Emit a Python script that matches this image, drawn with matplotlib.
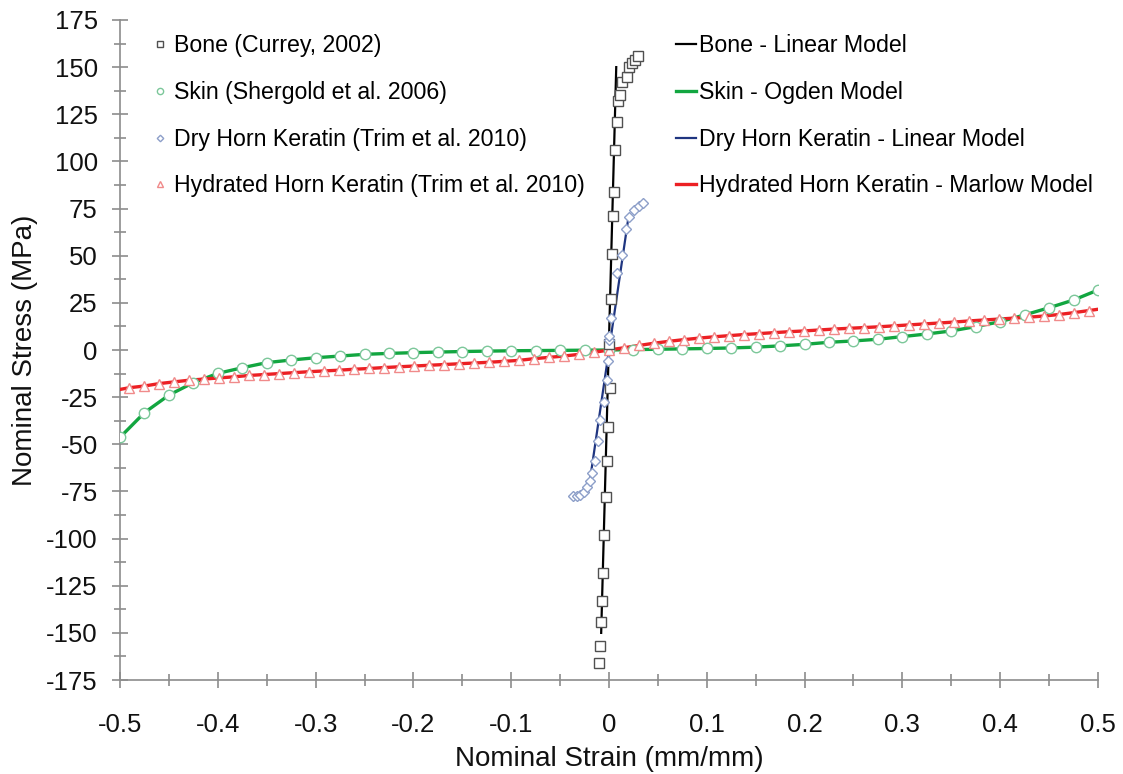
import matplotlib
matplotlib.use("Agg")
import matplotlib.pyplot as plt
from matplotlib.ticker import MultipleLocator, FuncFormatter

plt.rcParams['font.family'] = ['Liberation Sans', 'DejaVu Sans']
plt.rcParams['axes.unicode_minus'] = False

# Bone (Currey, 2002) - test data
bone_strain = [-0.0100, -0.0092, -0.0083, -0.0075, -0.0066, -0.0049, -0.0032, -0.0022,
               -0.0008, 0.0002, 0.0008, 0.0018, 0.0028, 0.0038, 0.0051, 0.0061, 0.0079,
               0.0095, 0.0110, 0.0130, 0.0188, 0.0208, 0.0240, 0.0266, 0.0293]
bone_stress = [-166, -157, -144, -133, -118, -98, -78, -59,
               -41, 3, -20, 27, 51, 71, 84, 106, 121,
               132, 135, 142, 145, 150, 152, 154, 156]
# Bone - linear model
bone_model_strain = [-0.0080, 0.0074]
bone_model_stress = [-150, 150]

# Skin (Shergold et al. 2006) - test data / Ogden model
skin_strain = [-0.500, -0.475, -0.450, -0.425, -0.400, -0.375, -0.350, -0.325, -0.300, -0.275,
               -0.250, -0.225, -0.200, -0.175, -0.150, -0.125, -0.100, -0.075, -0.050, -0.025,
               0.000, 0.025, 0.050, 0.075, 0.100, 0.125, 0.150, 0.175, 0.200, 0.225,
               0.250, 0.275, 0.300, 0.325, 0.350, 0.375, 0.400, 0.425, 0.450, 0.475, 0.500]
skin_stress = [-46.3, -33.2, -23.9, -17.3, -12.4, -9.4, -6.7, -5.3, -4.1, -3.2,
               -2.3, -1.8, -1.4, -1.1, -0.8, -0.6, -0.4, -0.3, -0.2, -0.1,
               0.0, 0.2, 0.4, 0.6, 0.8, 1.1, 1.5, 2.2, 3.0, 4.1,
               4.8, 5.7, 7.1, 8.5, 10.1, 12.4, 15.0, 18.6, 22.4, 26.5, 31.8]

# Dry horn keratin (Trim et al. 2010) - test data
dhk_strain = [-0.0368, -0.0327, -0.0297, -0.0256, -0.0225, -0.0194, -0.0174, -0.0143,
              -0.0112, -0.0092, -0.0050, -0.0020, -0.0010, 0.0000, 0.0002, 0.0020,
              0.0082, 0.0133, 0.0174, 0.0208, 0.0259, 0.0307, 0.0350]
dhk_stress = [-77.4, -77.4, -76.9, -75.3, -72.7, -69.5, -65.2, -58.9,
              -48.3, -37.1, -27.6, -15.9, -5.8, 5.3, 7.4, 17.0,
              40.8, 50.4, 64.0, 70.3, 74.2, 76.5, 77.8]
# Dry horn keratin - linear model
dhk_model_strain = [-0.0192, 0.0195]
dhk_model_stress = [-68, 69]

# Hydrated horn keratin (Trim et al. 2010) - test data
hhk_strain = [-0.4905, -0.4752, -0.4598, -0.4445, -0.4292, -0.4139, -0.3985, -0.3832,
              -0.3679, -0.3525, -0.3372, -0.3219, -0.3066, -0.2912, -0.2759, -0.2606,
              -0.2452, -0.2299, -0.2146, -0.1993, -0.1839, -0.1686, -0.1533, -0.1380,
              -0.1226, -0.1073, -0.0920, -0.0766, -0.0613, -0.0460, -0.0307, -0.0153,
              0.0000,
              0.0153, 0.0307, 0.0460, 0.0613, 0.0766, 0.0920, 0.1073, 0.1226,
              0.1380, 0.1533, 0.1686, 0.1839, 0.1993, 0.2146, 0.2299, 0.2452,
              0.2606, 0.2759, 0.2912, 0.3066, 0.3219, 0.3372, 0.3525, 0.3679,
              0.3832, 0.3985, 0.4139, 0.4292, 0.4445, 0.4598, 0.4752, 0.4905]
hhk_stress = [-20.0, -19.1, -17.8, -16.9, -16.0, -15.4, -14.8, -14.2,
              -13.5, -13.0, -12.5, -12.0, -11.5, -11.1, -10.7, -10.2,
              -9.8, -9.3, -8.9, -8.5, -8.1, -7.7, -7.3, -6.9,
              -6.5, -6.0, -5.5, -4.6, -3.9, -3.2, -2.3, -1.2,
              0.0,
              1.2, 2.4, 3.6, 4.6, 5.5, 6.3, 7.0, 7.6,
              8.2, 8.7, 9.2, 9.7, 10.1, 10.6, 11.1, 11.5,
              11.9, 12.3, 12.8, 13.3, 13.8, 14.3, 14.8, 15.4,
              15.9, 16.4, 16.9, 17.4, 18.0, 18.8, 19.8, 20.9]
# Hydrated horn keratin - Marlow model (runs to the axis ends)
hhk_model_strain = [-0.5] + hhk_strain + [0.5]
hhk_model_stress = [-20.9] + hhk_stress + [21.6]

fig = plt.figure(figsize=(11.23, 7.74), dpi=100)
ax = fig.add_axes([0.1069, 0.1214, 0.8708, 0.8528])

# model lines
l_bone, = ax.plot(bone_model_strain, bone_model_stress, color='black', lw=1.6, zorder=2,
                  label='Bone - Linear Model')
l_skin, = ax.plot(skin_strain, skin_stress, color='#12a640', lw=2.4, zorder=2,
                  label='Skin - Ogden Model')
l_dhk, = ax.plot(dhk_model_strain, dhk_model_stress, color='#1f3580', lw=1.6, zorder=2,
                 label='Dry Horn Keratin - Linear Model')
l_hhk, = ax.plot(hhk_model_strain, hhk_model_stress, color='#ec2024', lw=2.4, zorder=2,
                 label='Hydrated Horn Keratin - Marlow Model')

# test data markers
m_bone, = ax.plot(bone_strain, bone_stress, ls='none', marker='s', ms=6.5, mfc='white',
                  mec='#505050', mew=1.0, zorder=4, label='Bone (Currey, 2002)')
m_skin, = ax.plot(skin_strain, skin_stress, ls='none', marker='o', ms=7.5, mfc='white',
                  mec='#7cc79a', mew=1.0, zorder=3, label='Skin (Shergold et al. 2006)')
m_dhk, = ax.plot(dhk_strain, dhk_stress, ls='none', marker='D', ms=5.5, mfc='white',
                 mec='#8d9fc9', mew=1.0, zorder=4, label='Dry Horn Keratin (Trim et al. 2010)')
m_hhk, = ax.plot(hhk_strain, hhk_stress, ls='none', marker='^', ms=7, mfc='white',
                 mec='#f08a8a', mew=1.0, zorder=3,
                 label='Hydrated Horn Keratin (Trim et al. 2010)')

ax.set_xlim(-0.5, 0.5)
ax.set_ylim(-175, 175)
ax.xaxis.set_major_locator(MultipleLocator(0.1))
ax.xaxis.set_minor_locator(MultipleLocator(0.05))
ax.yaxis.set_major_locator(MultipleLocator(25))
ax.yaxis.set_minor_locator(MultipleLocator(12.5))
ax.xaxis.set_major_formatter(FuncFormatter(lambda v, p: '%g' % round(v, 6)))
ax.yaxis.set_major_formatter(FuncFormatter(lambda v, p: '%g' % round(v, 6)))

for s in ['top', 'right']:
    ax.spines[s].set_visible(False)
for s in ['left', 'bottom']:
    ax.spines[s].set_color('#8c8c8c')
    ax.spines[s].set_linewidth(1.2)
    ax.spines[s].set_zorder(1)

ax.tick_params(which='major', direction='inout', length=12, width=1.2, color='#8c8c8c',
               labelsize=18.5, labelcolor='#111111')
ax.tick_params(axis='y', which='major', pad=10)
ax.tick_params(axis='x', which='major', pad=18)
ax.tick_params(which='minor', direction='inout', length=9, width=1.2, color='#8c8c8c')

ax.set_xlabel('Nominal Strain (mm/mm)', fontsize=20, color='#111111', labelpad=6)
ax.set_ylabel('Nominal Stress (MPa)', fontsize=20, color='#111111', labelpad=6)

handles = [m_bone, m_skin, m_dhk, m_hhk, l_bone, l_skin, l_dhk, l_hhk]
ax.legend(handles=handles, labels=[h.get_label() for h in handles], ncol=2,
          loc='upper left', bbox_to_anchor=(0.031, 0.978), frameon=False,
          fontsize=16.7, markerscale=0.6, handlelength=0.85, handletextpad=0.15,
          columnspacing=3.95, labelspacing=1.02, borderpad=0, borderaxespad=0)

fig.savefig('out.png', dpi=100)
